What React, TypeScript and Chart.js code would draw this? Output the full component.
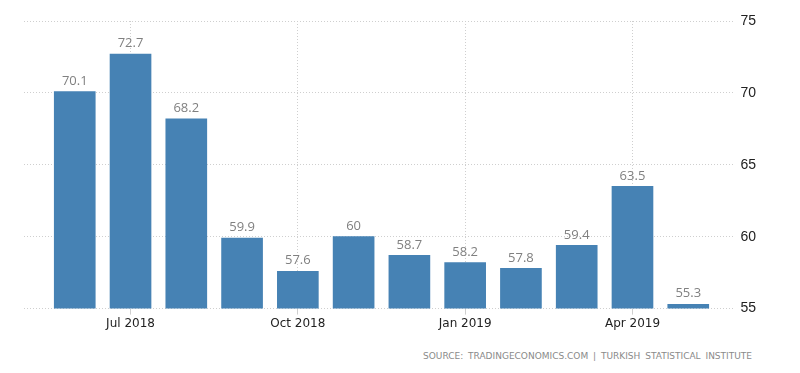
import React, { useEffect, useRef } from "react";
import { Chart, registerables } from "chart.js";

Chart.register(...registerables);

const months = [
  "Jun 2018", "Jul 2018", "Aug 2018", "Sep 2018", "Oct 2018", "Nov 2018",
  "Dec 2018", "Jan 2019", "Feb 2019", "Mar 2019", "Apr 2019", "May 2019",
];
const values = [70.1, 72.7, 68.2, 59.9, 57.6, 60, 58.7, 58.2, 57.8, 59.4, 63.5, 55.3];
const tickIndexes = [1, 4, 7, 10];
const yTicks = [55, 60, 65, 70, 75];
const sourceText = "SOURCE: TRADINGECONOMICS.COM | TURKISH STATISTICAL INSTITUTE";

const valueLabels = {
  id: "valueLabels",
  afterDatasetsDraw(chart: any) {
    const ctx = chart.ctx;
    const meta = chart.getDatasetMeta(0);
    ctx.save();
    ctx.font = "13px 'Open Sans'";
    ctx.fillStyle = "#808080";
    ctx.textAlign = "center";
    ctx.textBaseline = "bottom";
    meta.data.forEach((el: any, i: number) => {
      ctx.fillText(String(values[i]), el.x, el.y - 4);
    });
    ctx.restore();
  },
};

export default function App() {
  const ref = useRef<HTMLCanvasElement | null>(null);
  useEffect(() => {
    if (!ref.current) return;
    const chart = new Chart(ref.current, {
      type: "bar",
      data: {
        datasets: [
          {
            data: values.map((v, i) => ({ x: i, y: v })),
            backgroundColor: "#4682b4",
            barThickness: 41,
          },
        ],
      },
      options: {
        animation: false,
        responsive: true,
        maintainAspectRatio: false,
        layout: { padding: { left: 24, top: 21, right: 37, bottom: 0 } },
        plugins: { legend: { display: false }, tooltip: { enabled: false } },
        scales: {
          x: {
            type: "linear",
            offset: false,
            min: -0.91,
            max: 11.81,
            afterBuildTicks: (scale: any) => {
              scale.ticks = tickIndexes.map((v) => ({ value: v }));
            },
            ticks: {
              autoSkip: false,
              maxRotation: 0,
              color: "#222",
              font: { family: "'DejaVu Sans'", size: 12 },
              padding: 2,
              callback: (v: any) => months[v as number],
            },
            grid: {
              offset: false,
              color: "#cfcfcf",
              lineWidth: 1,
              tickLength: 6,
            } as any,
            border: { display: false, dash: [1, 2] },
          },
          y: {
            position: "right",
            min: 55,
            max: 75,
            afterBuildTicks: (scale: any) => {
              scale.ticks = yTicks.map((v) => ({ value: v }));
            },
            ticks: {
              color: "#222",
              font: { family: "'Liberation Sans'", size: 14 },
              padding: 7,
            },
            grid: { color: "#cfcfcf", drawTicks: false },
            border: { display: false, dash: [1, 2] },
          },
        },
      },
      plugins: [valueLabels],
    });
    return () => chart.destroy();
  }, []);
  return (
    <div style={{ position: "absolute", left: 0, top: 0, width: 800, height: 373, background: "#fff" }}>
      <div style={{ position: "absolute", left: 0, top: 0, width: 800, height: 333 }}>
        <canvas ref={ref} />
      </div>
      <div
        style={{
          position: "absolute",
          top: 351,
          right: 48,
          fontFamily: "'DejaVu Sans'",
          fontSize: 9,
          color: "#8a8a8a",
          wordSpacing: 2,
          whiteSpace: "pre",
        }}
      >
        {sourceText}
      </div>
    </div>
  );
}
